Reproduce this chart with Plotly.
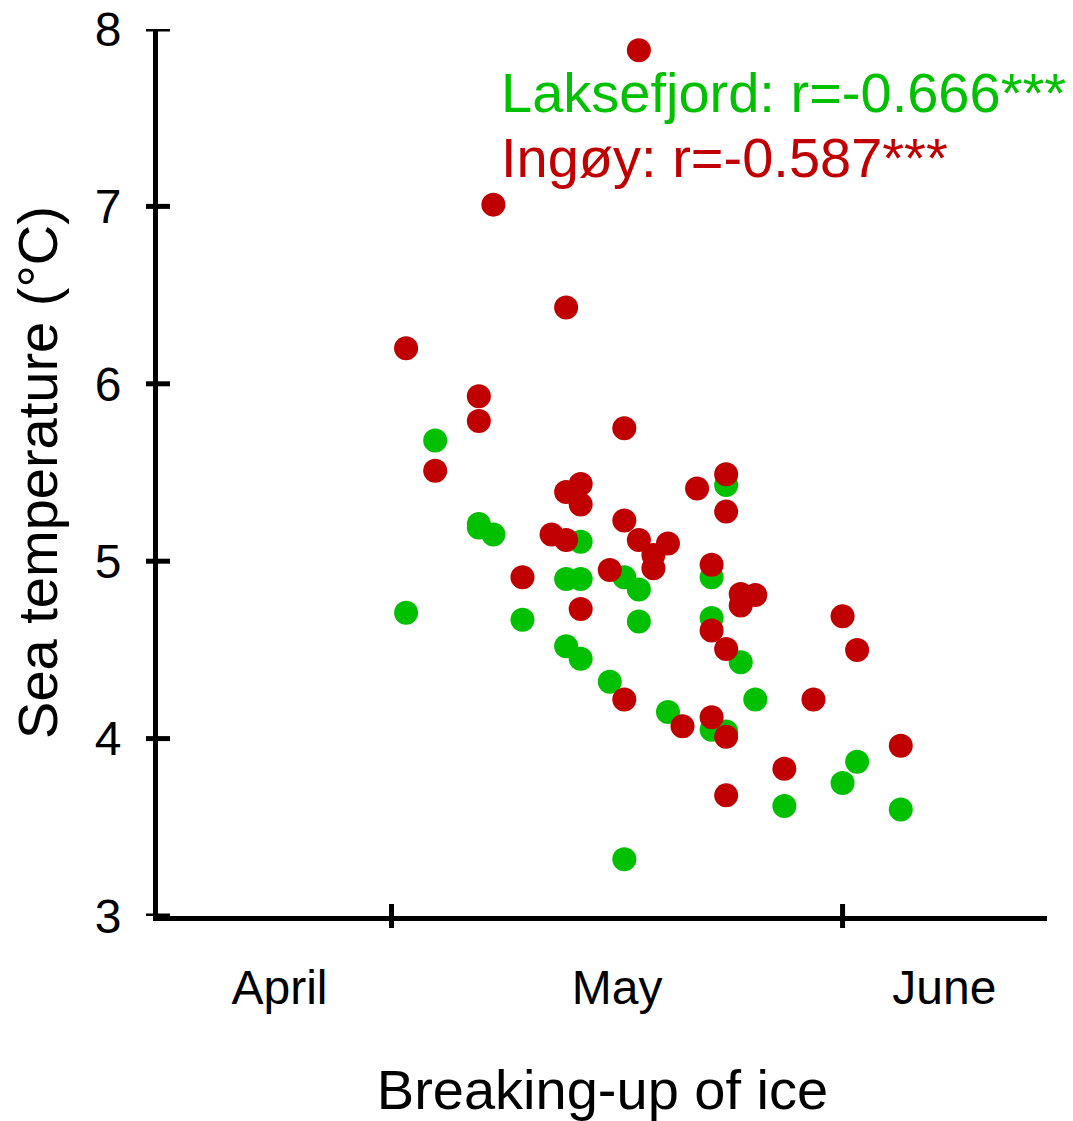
import plotly.graph_objects as go

# Day index: 0 = May boundary tick, 31 = June boundary tick
lak_day = [1, 3, 6, 6, 7, 9, 12, 12, 13, 13, 13, 15, 16, 16, 17, 17, 19, 22, 22, 22,
           23, 23, 24, 25, 27, 31, 32, 35]
lak_temp = [4.71, 5.68, 5.21, 5.19, 5.15, 4.67, 4.90, 4.52, 5.11, 4.90, 4.45, 4.32, 4.91, 3.32,
            4.84, 4.66, 4.15, 4.91, 4.68, 4.05, 5.43, 4.04, 4.43, 4.22, 3.62, 3.75, 3.87, 3.60]

ing_day = [1, 3, 6, 6, 7, 9, 11, 12, 12, 12, 13, 13, 13, 15, 17, 16, 16, 16, 17, 18,
           18, 19, 20, 21, 22, 22, 22, 23, 23, 23, 23, 23, 24, 24, 25, 27, 29, 31, 32, 35]
ing_temp = [6.20, 5.51, 5.93, 5.79, 7.01, 4.91, 5.15, 6.43, 5.39, 5.12, 5.435, 5.32, 4.73,
            4.95, 7.88, 5.75, 5.23, 4.22, 5.12, 5.035, 4.96, 5.10, 4.07, 5.41, 4.98, 4.61,
            4.12, 5.49, 5.28, 4.505, 4.01, 3.68, 4.815, 4.75, 4.81, 3.83, 4.22, 4.69, 4.50, 3.96]

month_pos = [-7.7, 15.5, 38.0]
month_labels = ["April", "May", "June"]
month_ticks = [0, 31]
y_ticks = [3, 4, 5, 6, 7, 8]

GREEN = "rgb(0,192,0)"
RED = "rgb(192,0,0)"
FONT = "Liberation Sans, Arial, sans-serif"

fig = go.Figure()
fig.add_trace(go.Scatter(x=lak_day, y=lak_temp, mode="markers",
                         marker=dict(size=24, color=GREEN, line=dict(width=0)),
                         name="Laksefjord", cliponaxis=False))
fig.add_trace(go.Scatter(x=ing_day, y=ing_temp, mode="markers",
                         marker=dict(size=24, color=RED, line=dict(width=0)),
                         name="Ingøy", cliponaxis=False))

W, H = 1073, 1121
ml, mr, mt, mb = 158, 26, 29, 205
pw, ph = W - ml - mr, H - mt - mb

shapes = []
for v in y_ticks:
    shapes.append(dict(type="line", xref="paper", yref="y", x0=-12 / pw, x1=12 / pw,
                       y0=v, y1=v, layer="above", line=dict(color="black", width=5)))
for v in month_ticks:
    shapes.append(dict(type="line", xref="x", yref="paper", x0=v, x1=v,
                       y0=-12 / ph, y1=12 / ph, layer="above", line=dict(color="black", width=5)))

fig.update_layout(
    width=W, height=H,
    margin=dict(l=ml, r=mr, t=mt, b=mb, autoexpand=False),
    paper_bgcolor="white", plot_bgcolor="white",
    showlegend=False,
    font=dict(family=FONT, color="black"),
    shapes=shapes,
    xaxis=dict(range=[-16.05, 45.05], showgrid=False, zeroline=False, automargin=False,
               showline=True, linecolor="black", linewidth=5,
               tickmode="array", tickvals=month_pos, ticktext=month_labels,
               ticks="", tickfont=dict(size=48, family=FONT), ticklabelstandoff=25,
               title=dict(text="Breaking-up of ice", font=dict(size=56, family=FONT), standoff=61)),
    yaxis=dict(range=[3, 8], showgrid=False, zeroline=False, automargin=False,
               showline=True, linecolor="black", linewidth=5,
               tickmode="array", tickvals=y_ticks,
               ticks="", tickfont=dict(size=48, family=FONT), ticklabelstandoff=22,
               title=dict(text="Sea temperature (°C)", font=dict(size=56, family=FONT), standoff=21)),
    annotations=[
        dict(text="Laksefjord: r=-0.666***", xref="paper", yref="paper",
             x=(499 - ml) / pw, y=(916 - 92) / ph, xanchor="left", yanchor="middle",
             showarrow=False, font=dict(size=56, color=GREEN, family=FONT)),
        dict(text="Ingøy: r=-0.587***", xref="paper", yref="paper",
             x=(499 - ml) / pw, y=(916 - 157) / ph, xanchor="left", yanchor="middle",
             showarrow=False, font=dict(size=56, color=RED, family=FONT)),
    ],
)

fig.write_html("out.html")
